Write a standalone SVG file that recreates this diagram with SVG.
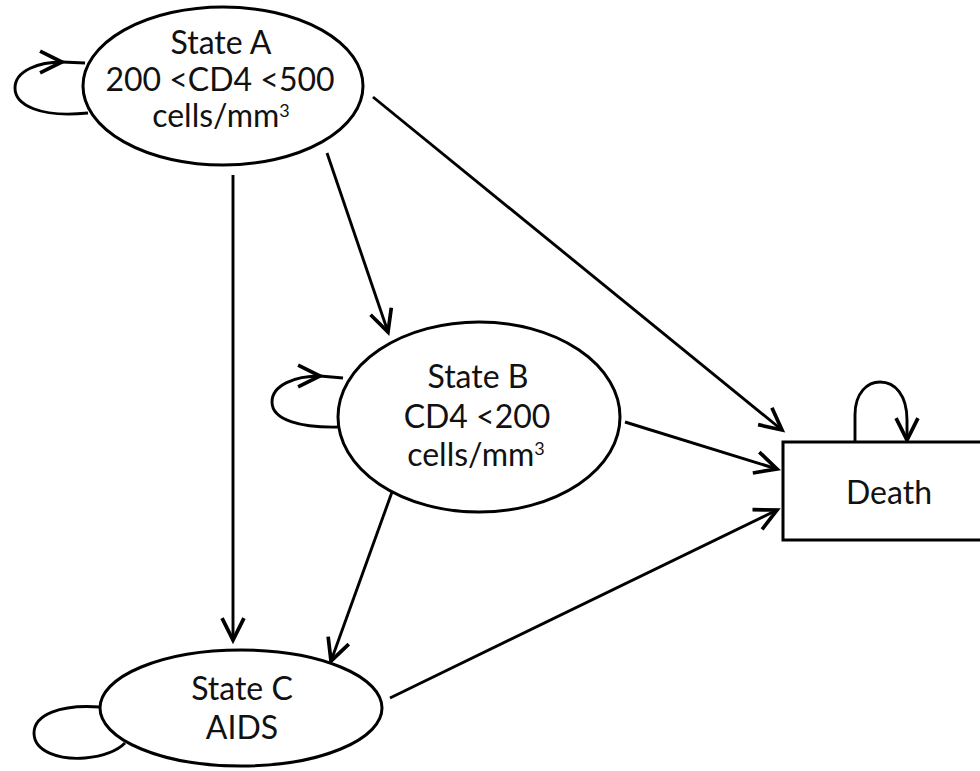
<svg xmlns="http://www.w3.org/2000/svg" width="980" height="771" viewBox="0 0 980 771">
<style>
.node{fill:#fff;stroke:#000;stroke-width:3}
.lbl{font-family:Lato,"Open Sans","DejaVu Sans",sans-serif;font-size:32px;fill:#111;text-anchor:middle}
.sup{font-size:18px}
.edge{fill:none;stroke:#000;stroke-width:2.9}
</style>
<defs>
<marker id="ah" markerUnits="userSpaceOnUse" markerWidth="30" markerHeight="30" viewBox="-22 -12 26 24" refX="0" refY="0" orient="auto">
<path d="M -19 -9.5 L 0 0 L -19 9.5" fill="none" stroke="#000" stroke-width="3.2"/>
</marker>
</defs>
<rect width="980" height="771" fill="#fff"/>
<g id="connectors">
<path class="edge" d="M 88 113 C 40 118, 15 105, 15 88 C 15 70, 40 62, 62 62" marker-end="url(#ah)"/>
<path class="edge" d="M 62 62 L 85 63"/>
<path class="edge" d="M 340 427 C 300 428, 272 420, 272 402 C 272 385, 295 376, 320 376" marker-end="url(#ah)"/>
<path class="edge" d="M 320 376 L 343 378"/>
<path class="edge" d="M 100 707 C 60 704, 34 715, 34 733 C 34 752, 60 760, 85 758 C 105 756, 118 750, 125 743"/>
<path class="edge" d="M 855 442 L 855 415 C 855 392, 868 382, 880 382 C 895 382, 907 395, 907 420 L 907 440" marker-end="url(#ah)"/>
<line class="edge" x1="373" y1="97" x2="782" y2="430" marker-end="url(#ah)"/>
<line class="edge" x1="327" y1="153" x2="388" y2="332" marker-end="url(#ah)"/>
<line class="edge" x1="233" y1="175" x2="233" y2="640" marker-end="url(#ah)"/>
<line class="edge" x1="625" y1="422" x2="777" y2="469" marker-end="url(#ah)"/>
<line class="edge" x1="392" y1="492" x2="331" y2="661" marker-end="url(#ah)"/>
<line class="edge" x1="390" y1="698" x2="777" y2="510" marker-end="url(#ah)"/>
</g>
<g id="stateA">
<ellipse class="node" cx="223" cy="86" rx="140" ry="79"/>
<text class="lbl" x="221" y="54">State A</text>
<text class="lbl" x="220" y="91" font-size="31">200 &lt;CD4 &lt;500</text>
<text class="lbl" x="221" y="127">cells/mm<tspan class="sup" dy="-10">3</tspan></text>
</g>
<g id="stateB">
<ellipse class="node" cx="479" cy="417" rx="141" ry="95"/>
<text class="lbl" x="478" y="388">State B</text>
<text class="lbl" x="477" y="428">CD4 &lt;200</text>
<text class="lbl" x="476" y="466">cells/mm<tspan class="sup" dy="-11">3</tspan></text>
</g>
<g id="stateC">
<ellipse class="node" cx="241" cy="708" rx="141" ry="58"/>
<text class="lbl" x="242" y="700">State C</text>
<text class="lbl" x="242" y="739">AIDS</text>
</g>
<g id="death">
<rect class="node" x="783" y="442" width="250" height="98" stroke-width="2.4"/>
<text class="lbl" x="889" y="504">Death</text>
</g>
</svg>
